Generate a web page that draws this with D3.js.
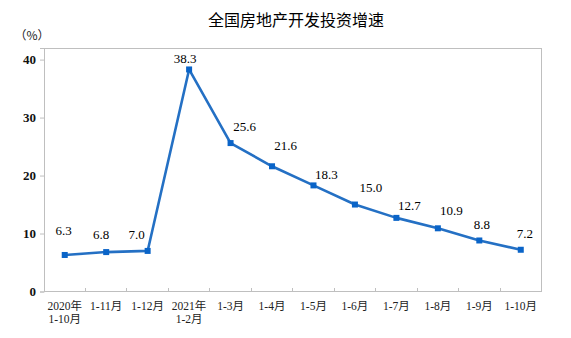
<!DOCTYPE html>
<html><head><meta charset="utf-8">
<script src="https://cdn.jsdelivr.net/npm/d3@7"></script>
<style>body{margin:0;background:#fff;}svg{display:block;}</style>
</head><body>
<svg id="chart" width="571" height="338"></svg>
<script>
const categories = [["2020年","1-10月"],["1-11月"],["1-12月"],["2021年","1-2月"],["1-3月"],["1-4月"],["1-5月"],["1-6月"],["1-7月"],["1-8月"],["1-9月"],["1-10月"]];
const growth = [6.3, 6.8, 7.0, 38.3, 25.6, 21.6, 18.3, 15.0, 12.7, 10.9, 8.8, 7.2];
const yTicks = [0, 10, 20, 30, 40];
const title = "全国房地产开发投资增速";
const unitLabel = "（%）";
// label placement offsets (dx, dy) relative to point
const labelOffsets = [[-1,-20],[-5,-13],[-11,-12],[-4,-6.5],[14,-12],[13.5,-16.5],[13,-6],[16,-12.5],[13,-7.5],[13.5,-13.7],[2.5,-11.6],[4,-12]];

const svg = d3.select("#chart");
const pLeft = 44, pRight = 541.5, pTop = 48, pBottom = 291.5;
const x = d3.scaleBand().domain(d3.range(categories.length)).range([pLeft, pRight]);
const y = d3.scaleLinear().domain([0, 42]).range([pBottom, pTop]);
const gray = "#bfbfbf";
const serif = "'Liberation Serif','Noto Sans CJK SC',serif";

svg.append("text").attr("x", 296).attr("y", 26).attr("text-anchor","middle")
  .style("font-family","'Noto Sans CJK SC',sans-serif").style("font-size","16px").attr("fill","#000").text(title);
svg.append("text").attr("x", 32).attr("y", 39.5).attr("text-anchor","middle")
  .style("font-family","'Noto Sans CJK SC',sans-serif").style("font-size","12px").attr("fill","#222").text(unitLabel);

// frame
svg.append("rect").attr("x", pLeft).attr("y", pTop).attr("width", pRight-pLeft).attr("height", pBottom-pTop)
  .attr("fill","none").attr("stroke", gray).attr("stroke-width",1).attr("shape-rendering","crispEdges");

// y axis
const yAxis = d3.axisLeft(y).tickValues(yTicks).tickSize(4).tickPadding(4);
const gy = svg.append("g").attr("transform",`translate(${pLeft},0)`).call(yAxis);
gy.select(".domain").attr("stroke", gray);
gy.selectAll(".tick line").attr("stroke", gray);
gy.selectAll(".tick text").style("font-family", serif).style("font-size","13px").style("font-weight","600").attr("fill","#111");

// x axis: inward ticks at band boundaries
const gx = svg.append("g").attr("transform",`translate(0,${pBottom})`);
gx.append("line").attr("x1",pLeft).attr("x2",pRight).attr("stroke",gray).attr("shape-rendering","crispEdges");
const bounds = d3.range(1, categories.length).map(i => x(i));
gx.selectAll("line.tk").data(bounds).join("line").attr("class","tk")
  .attr("x1", d=>d).attr("x2", d=>d).attr("y1", 0).attr("y2", -4).attr("stroke", gray).attr("shape-rendering","crispEdges");
categories.forEach((d,i)=>{
  d.forEach((s,j)=>{
    gx.append("text").attr("class","cat").attr("text-anchor","middle")
      .style("font-family", serif).style("font-size","11.5px").attr("fill","#222")
      .attr("x", x(i)+x.bandwidth()/2).attr("y", 18.5 + j*12.5).text(s);
  });
});

// line
const cx = i => x(i) + x.bandwidth()/2;
const line = d3.line().x((d,i)=>cx(i)).y(d=>y(d));
svg.append("path").datum(growth).attr("d", line).attr("fill","none")
  .attr("stroke","#2470c4").attr("stroke-width",2.6).attr("stroke-linejoin","round");
svg.selectAll("rect.mk").data(growth).join("rect").attr("class","mk")
  .attr("x",(d,i)=>cx(i)-3).attr("y",d=>y(d)-3).attr("width",6).attr("height",6).attr("fill","#0a64c8");

// value labels
svg.selectAll("text.val").data(growth).join("text").attr("class","val")
  .attr("x",(d,i)=>cx(i)+labelOffsets[i][0]).attr("y",(d,i)=>y(d)+labelOffsets[i][1])
  .attr("text-anchor","middle").style("font-family", serif).style("font-size","13px").attr("fill","#000")
  .text(d=>d.toFixed(1));
</script>
</body></html>
